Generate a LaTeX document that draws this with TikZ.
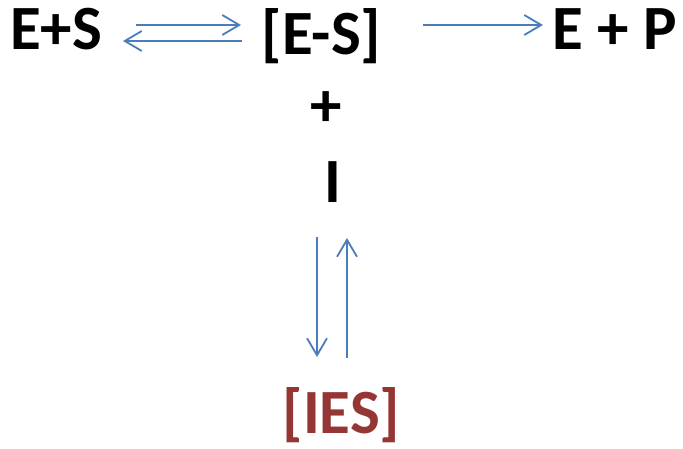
\documentclass[tikz,border=0pt]{standalone}
\usepackage{fontspec}
\setmainfont{Carlito}
\usetikzlibrary{arrows.meta}
\definecolor{arrowblue}{HTML}{4A7EBB}
\definecolor{inhibred}{HTML}{943634}
\tikzset{
  species/.style={font=\fontsize{63}{66}\selectfont\bfseries, inner sep=0pt, anchor=base},
  rxn/.style={draw=arrowblue, line width=1.8pt,
    -{Straight Barb[length=17pt,width=20pt,line width=1.8pt]}}
}
\begin{document}
\begin{tikzpicture}[x=1pt,y=1pt]
\useasboundingbox (0,0) rectangle (683,448);
% species
\node[species] (ES)   at (56,398.5) {E+S};
\node[species] (cplx) at (321.5,393) {[E-S]};
\node[species] (EP)   at (614.5,398) {E + P};
\node[species, anchor=center] (plus) at (326,339) {+};
\node[species] (I)    at (333,245) {I};
\node[species, text=inhibred] (IES) at (341.5,15) {[IES]};
% arrow end points
\coordinate (f1) at (136,423); \coordinate (f2) at (241,423);
\coordinate (b1) at (242,407); \coordinate (b2) at (123,407);
\coordinate (p1) at (423,423); \coordinate (p2) at (543,423);
\coordinate (d1) at (317,211); \coordinate (d2) at (317,91);
\coordinate (u1) at (347,90);  \coordinate (u2) at (347,210);
% reactions
\draw[rxn] (f1) -- (f2);
\draw[rxn] (b1) -- (b2);
\draw[rxn] (p1) -- (p2);
\draw[rxn] (d1) -- (d2);
\draw[rxn] (u1) -- (u2);
\end{tikzpicture}
\end{document}
